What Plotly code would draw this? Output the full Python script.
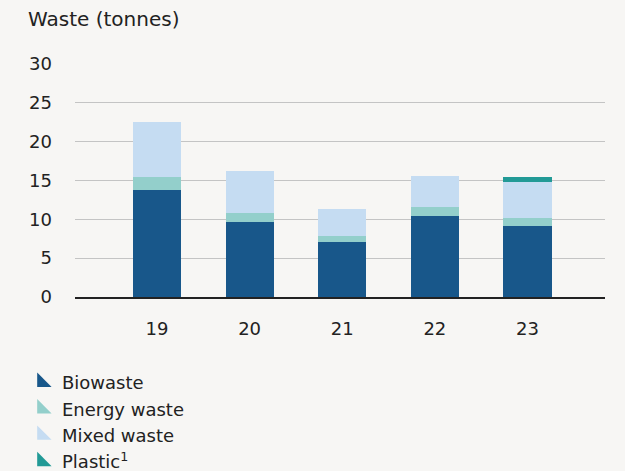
import plotly.graph_objects as go

years = ["19", "20", "21", "22", "23"]
biowaste = [13.8, 9.65, 7.1, 10.4, 9.1]
energy_waste = [1.6, 1.15, 0.75, 1.2, 1.1]
mixed_waste = [7.1, 5.4, 3.45, 4.0, 4.6]
plastic = [0, 0, 0, 0, 0.65]

series = [
    ("Biowaste", biowaste, "#18578a"),
    ("Energy waste", energy_waste, "#93cfcb"),
    ("Mixed waste", mixed_waste, "#c5dcf2"),
    ("Plastic<sup>1</sup>", plastic, "#229a96"),
]

FONT = "DejaVu Sans"
BG = "#f7f6f4"

fig = go.Figure()
for name, vals, col in series:
    fig.add_trace(go.Bar(x=years, y=vals, name=name, marker_color=col,
                         marker_line_width=0, width=0.52, showlegend=False))
for i, (name, vals, col) in enumerate(series):
    fig.add_trace(go.Scatter(x=[None], y=[None], mode="markers", name=name,
                             legendgroup=f"g{i}",
                             marker=dict(symbol="triangle-sw", size=22, color=col,
                                         line=dict(width=0))))

fig.update_layout(
    barmode="stack",
    width=625, height=471,
    paper_bgcolor=BG, plot_bgcolor=BG,
    margin=dict(l=75, r=20, t=64, b=174, autoexpand=False),
    font=dict(family=FONT, size=18, color="#222222"),
    xaxis=dict(type="category", range=[-0.885, 4.837], showgrid=False,
               ticks="", ticklabelstandoff=15, showline=True, linecolor="#222222",
               linewidth=1.5, tickfont=dict(size=18)),
    yaxis=dict(range=[0, 30], dtick=5, showgrid=True, gridcolor="#c4c4c4",
               gridwidth=1, zeroline=False, ticks="", ticklabelstandoff=22,
               tickfont=dict(size=18)),
    legend=dict(x=(22 - 75) / 530, y=-(364 - 297) / 233,
                xanchor="left", yanchor="top", traceorder="normal",
                tracegroupgap=0, font=dict(size=18), bgcolor="rgba(0,0,0,0)",
                itemwidth=30),
    annotations=[dict(text="Waste (tonnes)", xref="paper", yref="paper",
                      x=(26 - 75) / 530, y=(297 - 19) / 233,
                      xanchor="left", yanchor="middle", showarrow=False,
                      font=dict(size=20, family=FONT, color="#222222"))],
)

fig.write_html("out.html", config={"displayModeBar": False},
               post_script="document.body.style.margin='0px';")
